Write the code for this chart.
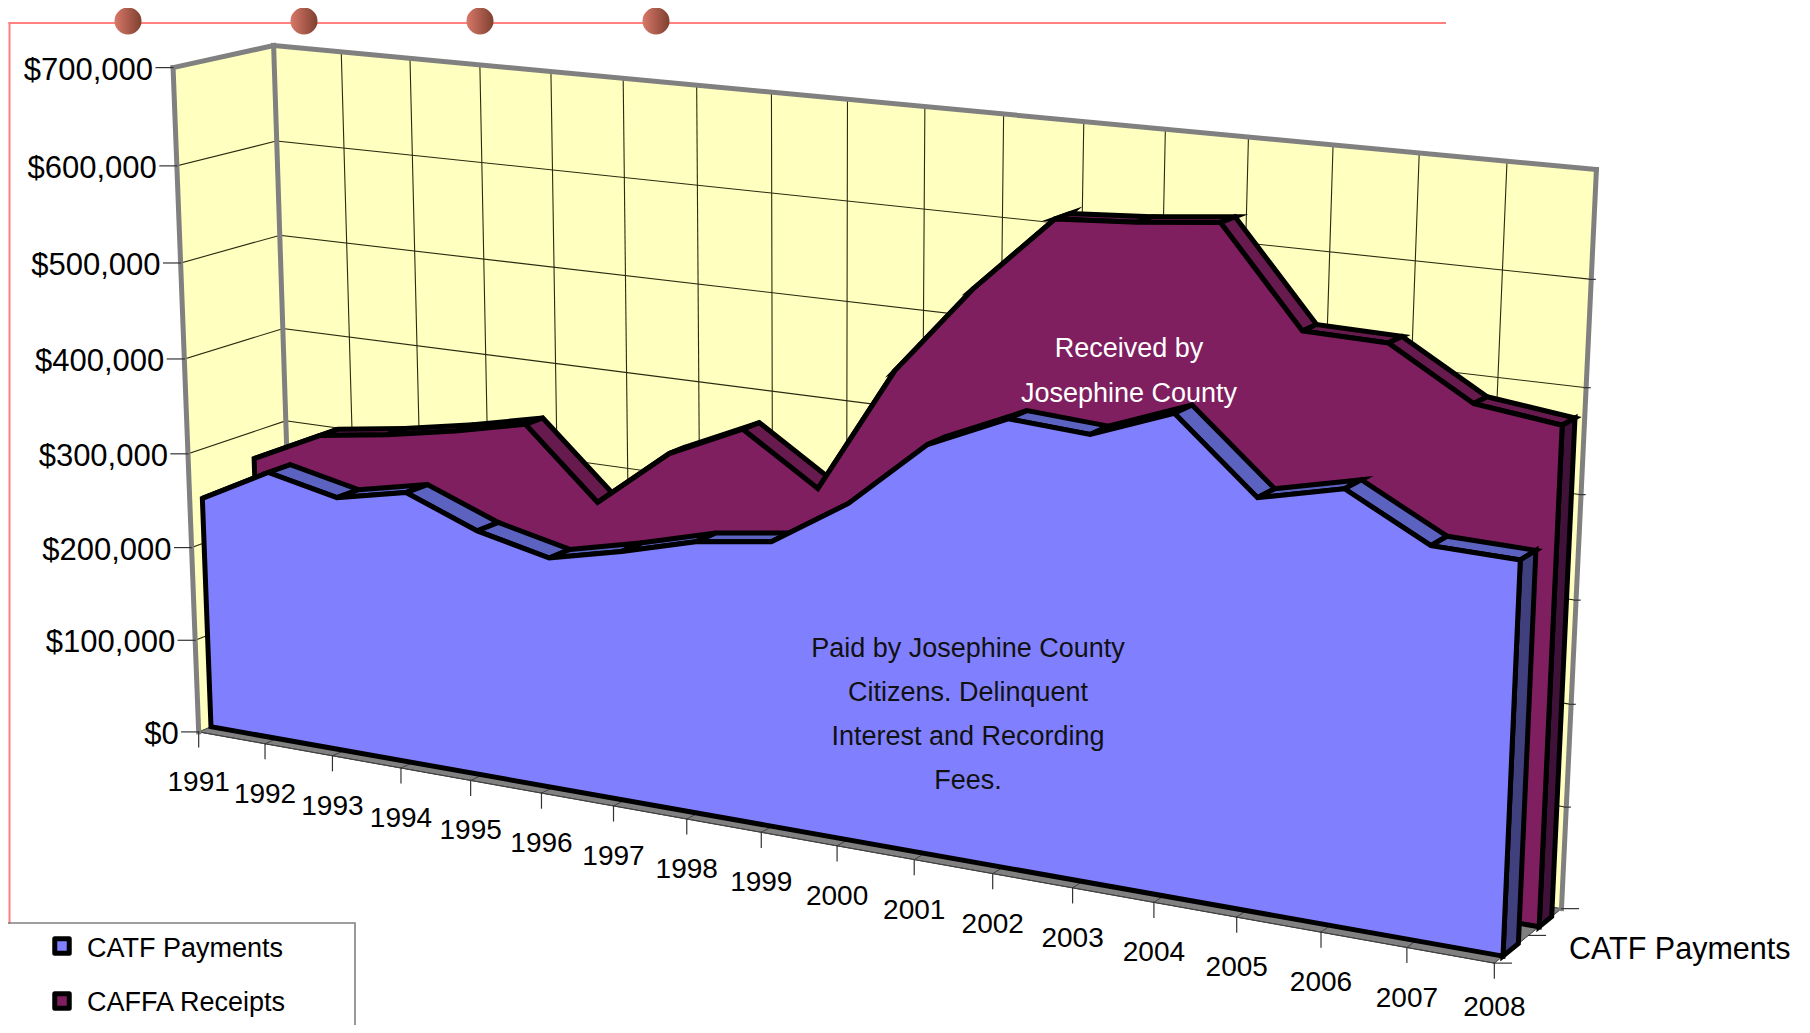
import numpy as np, pandas as pd, altair as alt

years = [str(y) for y in range(1991, 2009)]
catf_payments = [248,286,270,286,257,240,258,279,290,339,407,442,437,467,398,417,375,373]
caffa_receipts = [271,306,317,331,348,277,338,373,323,451,541,616,621,629,536,534,487,477]
axis_values = [0,100,200,300,400,500,600,700]
series_names = ["CATF Payments", "CAFFA Receipts"]
notes_received = ["Received by", "Josephine County"]
notes_paid = ["Paid by Josephine County", "Citizens. Delinquent", "Interest and Recording", "Fees."]

W, H = 1794, 1017
S = 1810 / 1568
VMAX = 700.0
B0, B1, C0, C1 = .125, .35, .66, .85
calib = [((0,1,1),(238,40)),((1,1,1),(1383,147)),((0,0,1),(254,598)),((1,0,1),(1353,787.5)),
         ((0,1,0),(149,58)),((0,0,0),(173.3,635)),((1,0,0),(1294.3,834)),((1,1,0),(1323,173))]
A = []
for (X,Y,Z),(x,y) in calib:
    x*=S/1000; y*=S/1000
    A.append([X,Y,Z,1,0,0,0,0,-x*X,-x*Y,-x*Z,-x])
    A.append([0,0,0,0,X,Y,Z,1,-y*X,-y*Y,-y*Z,-y])
P = np.linalg.svd(np.array(A))[2][-1].reshape(3,4)
def proj(i, val, d):
    h = P @ np.array([i/17, val/VMAX, d, 1.0])
    return float(h[0]/h[2]*1000), float(h[1]/h[2]*1000)

xs = alt.X("px:Q", scale=alt.Scale(domain=[8, 8+W], range=[0, W]), axis=None)
ys = alt.Y("py:Q", scale=alt.Scale(domain=[8, 8+H], range=[0, H]), axis=None)

def rows(polys, closed=True):
    out = []
    for g, pts in enumerate(polys):
        seq = list(pts)
        if closed:
            seq = seq + seq[:2]
        for k, (x, y) in enumerate(seq):
            out.append({"g": g, "k": k, "px": x, "py": y})
    return pd.DataFrame(out)

def poly(polys, fill, stroke="black", sw=5):
    return alt.Chart(rows(polys)).mark_line(fill=fill, stroke=stroke, strokeWidth=sw,
            strokeJoin="miter", strokeMiterLimit=6).encode(x=xs, y=ys, detail="g:N", order="k:Q")

def lines(segs, color, sw):
    return alt.Chart(rows(segs, closed=False)).mark_line(stroke=color, strokeWidth=sw,
            strokeCap="square").encode(x=xs, y=ys, detail="g:N", order="k:Q")

def texts(items, size, color="black", align="center", font="Liberation Sans"):
    df = pd.DataFrame([{"t": t, "px": x, "py": y} for t, x, y in items])
    return alt.Chart(df).mark_text(fontSize=size, color=color, align=align, baseline="middle",
            font=font).encode(x=xs, y=ys, text="t:N")

def slab(vals, d0, d1, cf, ct, ce, sw=5):
    n = len(vals)
    tops = [[proj(i, vals[i], d0), proj(i+1, vals[i+1], d0), proj(i+1, vals[i+1], d1), proj(i, vals[i], d1)]
            for i in range(n-1)]
    end = [[proj(n-1, 0, d0), proj(n-1, vals[-1], d0), proj(n-1, vals[-1], d1), proj(n-1, 0, d1)]]
    front = [[proj(0, 0, d0)] + [proj(i, vals[i], d0) for i in range(n)] + [proj(n-1, 0, d0)]]
    return [poly(tops, ct, sw=sw), poly(end, ce, sw=sw), poly(front, cf, sw=sw)]

layers = []
YEL, GR = "#FFFFC0", "#808080"
layers.append(poly([[proj(0,0,0), proj(0,VMAX,0), proj(0,VMAX,1), proj(0,0,1)]], YEL, stroke=YEL, sw=0.1))
layers.append(poly([[proj(0,0,1), proj(0,VMAX,1), proj(17,VMAX,1), proj(17,0,1)]], YEL, stroke=YEL, sw=0.1))
layers.append(poly([[proj(0,0,0), proj(17,0,0), proj(17,0,1), proj(0,0,1)]], GR, stroke="#404040", sw=1))
grid = [[proj(0,v,0), proj(0,v,1)] for v in axis_values[1:-1]] + \
       [[proj(0,v,1), proj(17,v,1)] for v in axis_values[1:-1]] + \
       [[proj(i,0,1), proj(i,VMAX,1)] for i in range(1,17)]
layers.append(lines(grid, "#2a2a10", 1.1))
floorgrid = [[proj(i,0,0), proj(i,0,1)] for i in range(1,17)]
layers.append(lines(floorgrid, "#404040", 1))
edges = [[proj(0,0,0), proj(0,VMAX,0)], [proj(0,0,1), proj(0,VMAX,1)], [proj(0,VMAX,0), proj(0,VMAX,1)],
         [proj(0,VMAX,1), proj(17,VMAX,1)], [proj(17,VMAX,1), proj(17,0,1)]]
layers.append(lines(edges, GR, 5))
tk = []
for v in axis_values:
    x, y = proj(0, v, 0)
    tk.append([(x-17, y), (x, y)])
    x, y = proj(17, v, 1)
    if 0 < v < 700:
        tk.append([(x-2, y), (x+4, y)])
for i in range(18):
    x, y = proj(i, 0, 0)
    tk.append([(x, y), (x, y+15)])
for d in (0, .5, 1):
    x, y = proj(17, 0, d)
    tk.append([(x, y), (x+17, y)])
layers.append(lines(tk, "#333333", 1.2))
layers += slab(caffa_receipts, C0, C1, "#7F1F5F", "#661A4D", "#40123A")
layers += slab(catf_payments, B0, B1, "#8080FF", "#5B62C0", "#40407F")
ylab = []
for v in axis_values:
    x, y = proj(0, v, 0)
    ylab.append((("$%d,000" % v) if v else "$0", x-20, y+3))
layers.append(texts(ylab, 31, align="right"))
xlab = []
for i, t in enumerate(years):
    x, y = proj(i, 0, 0)
    xlab.append((t, x, min(y+51, 1008)))
layers.append(texts(xlab, 28))
layers.append(texts([(series_names[0], 1569, 950)], 30.5, align="left"))
layers.append(texts([(t, 1129, 349 + k*45) for k, t in enumerate(notes_received)], 27, color="white"))
layers.append(texts([(t, 968, 649 + k*44) for k, t in enumerate(notes_paid)], 27, color="#111111"))
layers.append(lines([[(9.5, 23), (1445, 23)], [(9.5, 23), (9.5, 923)]], "#FF8080", 2))
orn = pd.DataFrame({"px": [128, 304, 480, 656], "py": [21]*4})
grad = alt.Gradient(gradient="linear", x1=0, x2=1, y1=0, y2=0,
                    stops=[alt.GradientStop(offset=0, color="#D87868"), alt.GradientStop(offset=1, color="#7E4030")])
layers.append(alt.Chart(orn).mark_point(shape="circle", filled=True, fill=grad, opacity=1, size=730, strokeWidth=0).encode(x=xs, y=ys))
layers.append(lines([[(8, 923), (355, 923), (355, 1032)]], "#808080", 1.6))
leg = pd.DataFrame({"px": [62, 62], "py": [946, 1001], "c": ["#8080FF", "#7F1F5F"]})
layers.append(alt.Chart(leg).mark_point(shape="square", filled=True, opacity=1, size=210, stroke="black",
              strokeWidth=5, strokeJoin="round").encode(x=xs, y=ys, fill=alt.Fill("c:N", scale=None)))
layers.append(texts([(series_names[0], 87, 949), (series_names[1], 87, 1003)], 27, align="left"))

chart = alt.layer(*layers).properties(width=W, height=H, padding=0, autosize=alt.AutoSizeParams(type="none"),
        background="white").configure_view(stroke=None)
chart.save("out.html", embed_options={"renderer": "svg", "actions": False})
